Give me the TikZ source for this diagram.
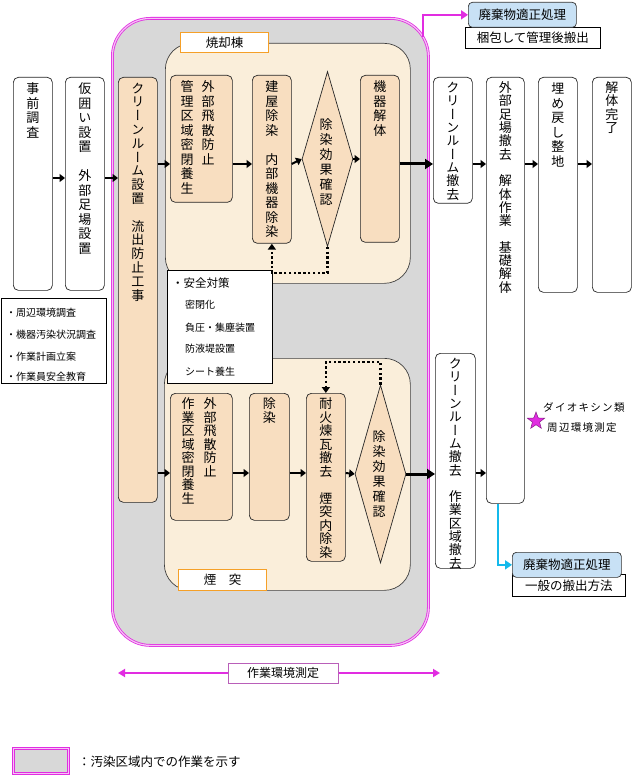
\documentclass[tikz,border=0pt]{standalone}
\usepackage{fontspec}
\newfontfamily\jp{Noto Sans CJK JP}
\newfontfamily\jpv[RawFeature=+vert]{Noto Sans CJK JP}
\usetikzlibrary{arrows.meta,shapes.geometric,calc}
\definecolor{mag}{RGB}{225,45,225}
\definecolor{magpale}{RGB}{245,195,245}
\definecolor{tan}{RGB}{248,222,192}
\definecolor{cream}{RGB}{250,238,218}
\definecolor{zonegray}{RGB}{216,216,216}
\definecolor{lblue}{RGB}{200,225,245}
\definecolor{cyanarr}{RGB}{20,185,235}
\definecolor{orangeb}{RGB}{245,160,40}
\definecolor{lavb}{RGB}{185,95,185}
\newdimen\vtpitch \vtpitch=14.5pt
\def\vt#1{\vbox{\offinterlineskip\vtA#1\relax}}
\def\vtA#1{\ifx#1\relax\else\hbox to 14pt{\hss\vrule height .86\vtpitch depth .14\vtpitch width 0pt\relax #1\hss}\expandafter\vtA\fi}
\def\ls#1{\lsA#1\relax}
\def\lsA#1{\ifx#1\relax\else#1\kern1.3pt\expandafter\lsA\fi}
\begin{document}
\begin{tikzpicture}[x=1pt,y=-1pt,
  box/.style={draw=black!85, line width=0.7pt, rounded corners=5pt, fill=white, anchor=north west, inner sep=0pt},
  tbox/.style={box, fill=tan},
  vtxt/.style={anchor=north, inner sep=0pt, font=\jpv\fontsize{13}{14}\selectfont},
  zonebox/.style={draw=mag, line width=0.8pt, double=magpale, double distance=1.2pt, fill=zonegray, rounded corners=38pt, anchor=north west, inner sep=0pt},
  region/.style={draw=black!75, line width=0.7pt, fill=cream, rounded corners=26pt, anchor=north west, inner sep=0pt},
  lab/.style={draw=orangeb, line width=1.4pt, fill=white, anchor=north west, inner sep=0pt, font=\jp\fontsize{12.5}{14}\selectfont},
  plain/.style={draw=black, line width=0.7pt, fill=white, anchor=north west, inner sep=0pt},
  bluebox/.style={draw=black!80, line width=0.7pt, fill=lblue, rounded corners=4pt, anchor=north west, inner sep=0pt, font=\jp\fontsize{12.5}{14}\selectfont},
  txt/.style={anchor=west, inner sep=0pt},
  dia/.style={diamond, draw=black!85, line width=0.7pt, fill=tan, inner sep=0pt, minimum width=51pt, minimum height=175pt},
  arr/.style={line width=2pt, -{Triangle[length=5.5pt,width=8pt]}},
  bigarr/.style={line width=3pt, -{Triangle[length=8pt,width=10pt]}},
  dotarr/.style={line width=2.2pt, dash pattern=on 2.4pt off 2.4pt, -{Triangle[length=6pt,width=8pt]}},
  magarr/.style={draw=mag, line width=2.5pt, -{Triangle[length=7pt,width=9pt]}},
  cyarr/.style={draw=cyanarr, line width=2.5pt, -{Triangle[length=7pt,width=9pt]}},
  envarr/.style={draw=mag, line width=2pt, {Triangle[length=7pt,width=8pt]}-{Triangle[length=7pt,width=8pt]}}
]
\useasboundingbox (0,0) rectangle (640,775);
\fill[white] (0,0) rectangle (640,775);

% contaminated zone
\node[zonebox, minimum width=316pt, minimum height=627pt] (zone) at (112,18) {};
\node[region, minimum width=245pt, minimum height=240pt] (incin) at (165,43) {};
\node[region, minimum width=246pt, minimum height=232pt] (chim) at (164,358) {};
\node[lab, minimum width=88pt, minimum height=20pt] (labA) at (180,32) {焼却棟};
\node[lab, minimum width=88pt, minimum height=21pt] (labB) at (178,569) {煙　突};

% safety box
\node[plain, minimum width=105pt, minimum height=113pt] (safety) at (167,270) {};
\node[txt, font=\jp\fontsize{11.5}{12}\selectfont] (s1) at (172,283) {・安全対策};
\node[txt, font=\jp\fontsize{10}{11}\selectfont] (s2) at (185,305) {密閉化};
\node[txt, font=\jp\fontsize{10}{11}\selectfont] (s3) at (185,328) {負圧・集塵装置};
\node[txt, font=\jp\fontsize{10}{11}\selectfont] (s4) at (185,349) {防液堤設置};
\node[txt, font=\jp\fontsize{10}{11}\selectfont] (s5) at (185,372) {シート養生};

% notes box
\node[plain, minimum width=105pt, minimum height=85pt] (notes) at (1,298) {};
\node[txt, font=\jp\fontsize{10}{11}\selectfont] (n1) at (6,313) {・周辺環境調査};
\node[txt, font=\jp\fontsize{10}{11}\selectfont] (n2) at (6,335) {・機器汚染状況調査};
\node[txt, font=\jp\fontsize{10}{11}\selectfont] (n3) at (6,357) {・作業計画立案};
\node[txt, font=\jp\fontsize{10}{11}\selectfont] (n4) at (6,377) {・作業員安全教育};

% left boxes
\node[box, minimum width=39pt, minimum height=213pt] (jizen) at (13,77) {};
\node[box, minimum width=39pt, minimum height=213pt] (kakoi) at (65,77) {};
\node[tbox, minimum width=39pt, minimum height=425pt] (cr) at (118,77) {};
\node[vtxt] (jizenT) at ([yshift=-4pt]jizen.north) {\vt{事前調査}};
\node[vtxt] (kakoiT) at ([yshift=-4pt]kakoi.north) {\vt{仮囲い設置　外部足場設置}};
\node[vtxt] (crT) at ([yshift=-4pt]cr.north) {\vtpitch=13.8pt\vt{クリーンルーム設置　流出防止工事}};

% incinerator building
\node[tbox, minimum width=62pt, minimum height=127pt] (t1) at (170,75) {};
\node[vtxt] (t1R) at (208,79) {\vt{外部飛散防止}};
\node[vtxt] (t1L) at (187,79) {\vt{管理区域密閉養生}};
\node[tbox, minimum width=39pt, minimum height=168pt] (t2) at (252,75) {};
\node[vtxt] (t2T) at ([yshift=-4pt]t2.north) {\vt{建屋除染　内部機器除染}};
\node[dia] (dia1) at (327.5,159) {};
\node[vtxt, anchor=center] (dia1T) at (326,162) {\vtpitch=15pt\vt{除染効果確認}};
\node[tbox, minimum width=39pt, minimum height=167pt] (kiki) at (360,75) {};
\node[vtxt] (kikiT) at ([yshift=-4pt]kiki.north) {\vt{機器解体}};

% chimney
\node[tbox, minimum width=62pt, minimum height=127pt] (b1) at (170,393) {};
\node[vtxt] (b1R) at (210,397) {\vtpitch=13.5pt\vt{外部飛散防止}};
\node[vtxt] (b1L) at (188,397) {\vtpitch=13.5pt\vt{作業区域密閉養生}};
\node[tbox, minimum width=40pt, minimum height=127pt] (b2) at (249,393) {};
\node[vtxt] (b2T) at ([yshift=-4pt]b2.north) {\vtpitch=13.5pt\vt{除染}};
\node[tbox, minimum width=39pt, minimum height=168pt] (b3) at (306,393) {};
\node[vtxt] (b3T) at ([yshift=-4pt]b3.north) {\vtpitch=13.5pt\vt{耐火煉瓦撤去　煙突内除染}};
\node[dia, minimum height=178pt] (dia2) at (380.5,474) {};
\node[vtxt, anchor=center] (dia2T) at (379,474) {\vtpitch=15pt\vt{除染効果確認}};

% right boxes
\node[box, minimum width=39pt, minimum height=126pt] (crx) at (433,77) {};
\node[vtxt] (crxT) at ([yshift=-4pt]crx.north) {\vtpitch=13.3pt\vt{クリーンルーム撤去}};
\node[box, minimum width=38pt, minimum height=426pt] (gaibu) at (486,77) {};
\node[vtxt] (gaibuT) at ([yshift=-4pt]gaibu.north) {\vtpitch=13.3pt\vt{外部足場撤去　解体作業　基礎解体}};
\node[box, minimum width=39pt, minimum height=215pt] (ume) at (538,77) {};
\node[vtxt] (umeT) at ([yshift=-4pt]ume.north) {\vt{埋め戻し整地}};
\node[box, minimum width=39pt, minimum height=215pt] (kan) at (592,77) {};
\node[vtxt] (kanT) at ([yshift=-4pt]kan.north) {\vtpitch=13.3pt\vt{解体完了}};
\node[box, minimum width=40pt, minimum height=215pt] (crx2) at (435,353) {};
\node[vtxt] (crx2T) at ([yshift=-4pt]crx2.north) {\vtpitch=13.3pt\vt{クリーンルーム撤去　作業区域撤去}};

% waste treatment boxes
\node[plain, minimum width=135pt, minimum height=21pt, font=\jp\fontsize{12.5}{14}\selectfont] (note1) at (465,27) {梱包して管理後搬出};
\node[bluebox, minimum width=108pt, minimum height=25pt] (waste1) at (468,2) {廃棄物適正処理};
\node[plain, minimum width=113pt, minimum height=22pt, font=\jp\fontsize{12.5}{14}\selectfont] (note2) at (512,574) {\raisebox{-2pt}{一般の搬出方法}};
\node[bluebox, minimum width=109pt, minimum height=25pt] (waste2) at (512,552) {廃棄物適正処理};

% dioxin measurement
\node[star, star points=5, star point ratio=2.4, draw=mag!60!black, line width=0.5pt, fill=mag, minimum size=18pt, inner sep=0pt] (star) at (536,421) {};
\node[txt, font=\jp\fontsize{10.5}{12}\selectfont] (dx1) at (543,407) {\ls{ダイオキシン類}};
\node[txt, font=\jp\fontsize{10.5}{12}\selectfont] (dx2) at (547,428) {\ls{周辺環境測定}};

% rows
\coordinate (rA) at (0,178);
\coordinate (rB) at (0,164);
\coordinate (rC) at (0,473);
\coordinate (dotA) at (0,273);
\coordinate (dotB) at (0,362);

% arrows
\draw[arr] (jizen.east |- rA) -- (kakoi.west |- rA);
\draw[arr] (kakoi.east |- rA) -- (cr.west |- rA);
\draw[arr] (cr.east |- rB) -- (t1.west |- rB);
\draw[arr] (t1.east |- rB) -- (t2.west |- rB);
\draw[arr] (t2.east |- rB) -- (dia1.west);
\draw[arr] (dia1.east) -- (kiki.west |- dia1.east);
\draw[bigarr] (kiki.east |- rB) -- (crx.west |- rB);
\draw[arr] (crx.east |- rB) -- (gaibu.west |- rB);
\draw[arr] (gaibu.east |- rB) -- (ume.west |- rB);
\draw[arr] (ume.east |- rB) -- (kan.west |- rB);
\draw[arr] (cr.east |- rC) -- (b1.west |- rC);
\draw[arr] (b1.east |- rC) -- (b2.west |- rC);
\draw[arr] (b2.east |- rC) -- (b3.west |- rC);
\draw[arr] (b3.east |- rC) -- (dia2.west);
\draw[bigarr] (dia2.east) -- (crx2.west |- dia2.east);
\draw[arr] (crx2.east |- rC) -- (gaibu.west |- rC);
\draw[dotarr] (dia1.south) -- (dia1.south |- dotA) -| (t2.south);
\draw[dotarr] (dia2.north) -- (dia2.north |- dotB) -| (b3.north);

\coordinate (magS) at (423,37);
\draw[magarr] (magS) |- (waste1.west);
\coordinate (cyS) at ($(gaibu.south west)+(12,0)$);
\draw[cyarr] (cyS) |- (waste2.west);

% work environment measurement
\coordinate (weL) at (118,673);
\coordinate (weR) at (440,673);
\draw[envarr] (weL) -- (weR);
\node[draw=lavb, line width=1pt, fill=white, minimum width=110pt, minimum height=20pt, inner sep=0pt, font=\jp\fontsize{12}{14}\selectfont] (env) at (283,673) {作業環境測定};

% legend
\node[zonebox, rounded corners=0pt, minimum width=55pt, minimum height=25pt] (leg) at (13,748) {};
\node[txt, font=\jp\fontsize{12.5}{13}\selectfont] (legT) at (78,762) {：汚染区域内での作業を示す};
\end{tikzpicture}
\end{document}
